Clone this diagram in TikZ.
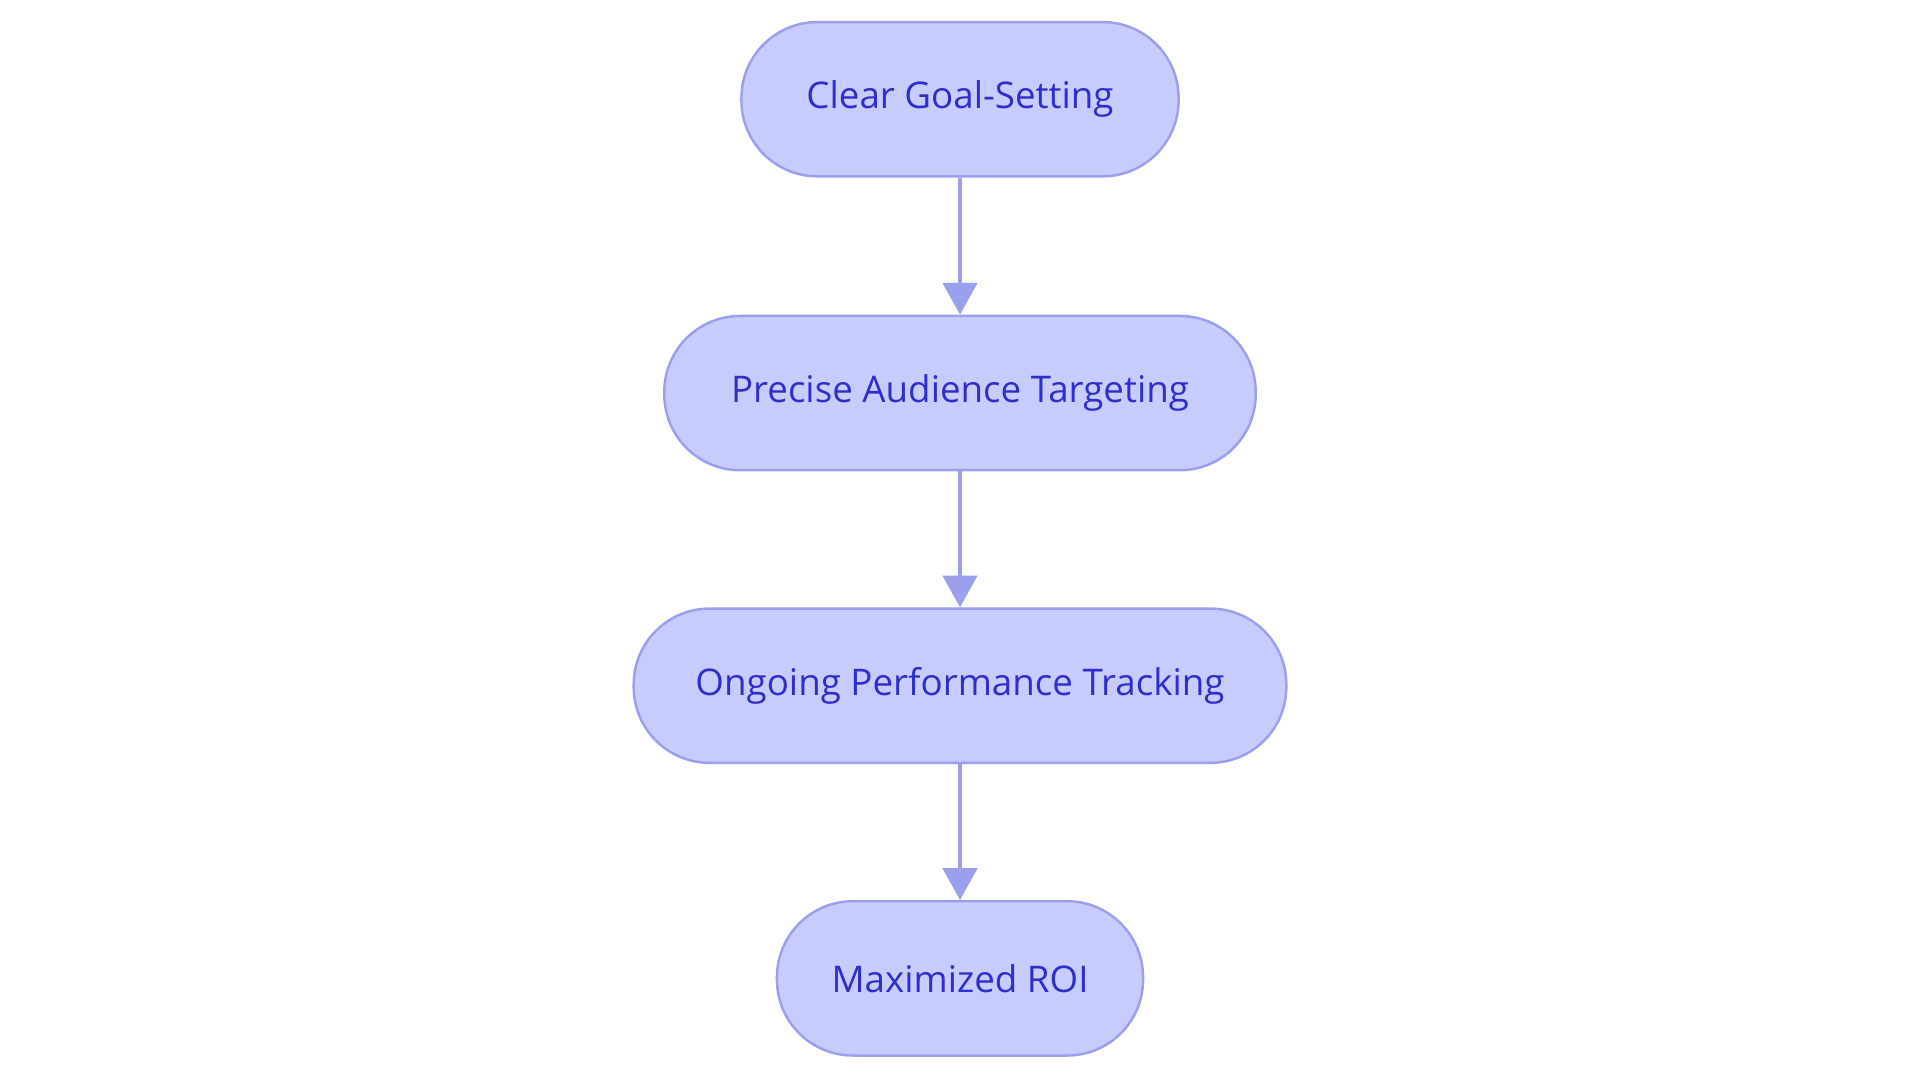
\documentclass[tikz,border=0pt]{standalone}
\usepackage{fontspec}
\setmainfont{Open Sans}
\usetikzlibrary{arrows.meta}
\definecolor{boxfill}{HTML}{C8CBFD}
\definecolor{boxline}{HTML}{9A9FEE}
\definecolor{txt}{HTML}{2E2ECC}
\tikzset{
  stepbox/.style={draw=boxline, line width=1pt, fill=boxfill, rounded corners=31pt, minimum height=63pt, inner sep=0pt, text=txt, font=\fontsize{15}{18}\selectfont},
  conn/.style={draw=boxline, line width=1.6pt, -{Triangle[length=13pt,width=14pt]}}
}
\begin{document}
\begin{tikzpicture}[x=0.5pt,y=-0.5pt]
\useasboundingbox (0,0) rectangle (1568,884);
\node[stepbox, minimum width=178.5pt] (a) at (784,81) {Clear Goal-Setting};
\node[stepbox, minimum width=241.5pt] (b) at (784,321) {Precise Audience Targeting};
\node[stepbox, minimum width=266.5pt] (c) at (784,560) {Ongoing Performance Tracking};
\node[stepbox, minimum width=149.5pt] (d) at (784,799) {Maximized ROI};
\draw[conn] (a) -- (b);
\draw[conn] (b) -- (c);
\draw[conn] (c) -- (d);
\end{tikzpicture}
\end{document}
